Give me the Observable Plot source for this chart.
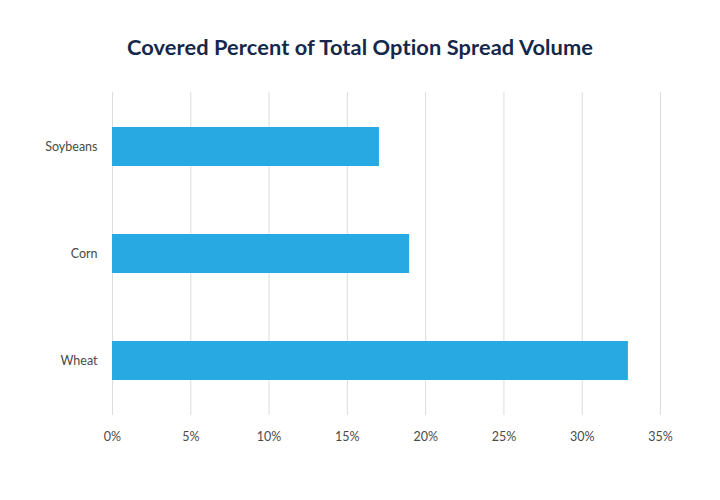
<!DOCTYPE html>
<html>
<head>
<meta charset="utf-8">
<script src="https://cdn.jsdelivr.net/npm/d3@7"></script>
<script src="https://cdn.jsdelivr.net/npm/@observablehq/plot@0.6"></script>
<style>
  html, body { margin: 0; padding: 0; background: #fff; }
  #wrap { width: 720px; height: 500px; position: relative; }
  #title { height: 80px; line-height: 94px; text-align: center; font-family: Lato, "Noto Sans", sans-serif; font-weight: 700; font-size: 21.8px; color: #14284b; letter-spacing: 0.1px; }
</style>
</head>
<body>
<div id="wrap">
  <div id="title">Covered Percent of Total Option Spread Volume</div>
  <div id="chart"></div>
</div>
<script>
const categories = ["Soybeans", "Corn", "Wheat"];
const values = [17.05, 18.98, 32.95];
const xTicks = [0, 5, 10, 15, 20, 25, 30, 35];

const data = categories.map((c, i) => ({category: c, value: values[i]}));

const chart = Plot.plot({
  width: 720,
  height: 420,
  marginTop: 12,
  marginBottom: 85,
  marginLeft: 112,
  marginRight: 60,
  style: {fontFamily: "Lato, 'Noto Sans', sans-serif", fontSize: "12.5px", color: "#4a4a4a"},
  x: {domain: [0, 35], ticks: xTicks, tickFormat: d => d + "%", label: null, tickSize: 0, tickPadding: 17},
  y: {domain: categories, label: null, paddingInner: 0.64, paddingOuter: 0.32, tickSize: 0, tickPadding: 15},
  marks: [
    Plot.ruleX(xTicks, {stroke: "#dcdcdc", strokeWidth: 1}),
    Plot.barX(data, {x: "value", y: "category", fill: "#29a9e1"}),
    Plot.axisX({ticks: xTicks, tickFormat: d => d + "%", tickSize: 0, tickPadding: 17, label: null, fill: "#4a4a4a"}),
    Plot.axisY({tickSize: 0, tickPadding: 15, label: null, fill: "#4a4a4a"})
  ]
});
document.getElementById("chart").appendChild(chart);
</script>
</body>
</html>
